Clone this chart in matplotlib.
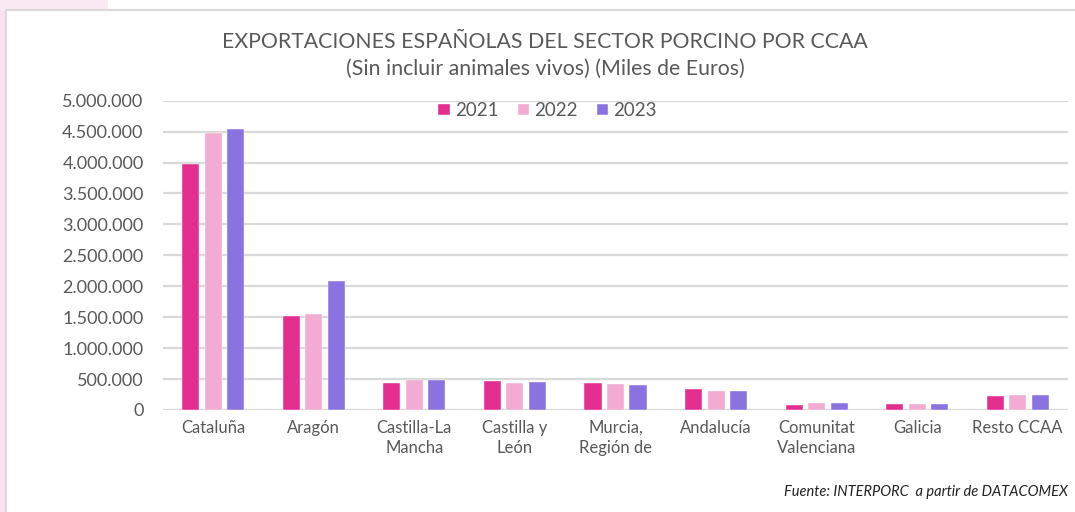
import numpy as np
import matplotlib.pyplot as plt
from matplotlib.patches import Rectangle
from matplotlib.ticker import FuncFormatter

plt.rcParams['font.family'] = ['Lato', 'DejaVu Sans']

# Exportaciones por comunidad autonoma (miles de euros)
ccaa = ['Cataluña', 'Aragón', 'Castilla-La\nMancha', 'Castilla y\nLeón',
        'Murcia,\nRegión de', 'Andalucía', 'Comunitat\nValenciana',
        'Galicia', 'Resto CCAA']
y2021 = [3980000, 1520000, 440000, 469000, 430000, 340000, 81000, 97000, 220000]
y2022 = [4470000, 1550000, 485000, 440000, 425000, 307000, 113000, 97000, 248000]
y2023 = [4540000, 2090000, 485000, 452000, 412000, 307000, 113000, 97000, 248000]
years = ['2021', '2022', '2023']
colors = ['#E32D8F', '#F2ABD2', '#8A73E0']

grey = '#595959'

fig = plt.figure(figsize=(10.75, 5.12), dpi=100)
fig.patch.set_facecolor('white')

# background page strip and chart frame
fig.patches.append(Rectangle((0, 0), 0.005, 1, transform=fig.transFigure,
                             facecolor='#F9E1EE', edgecolor='none', zorder=0))
fig.patches.append(Rectangle((0, 0.98), 0.1, 0.02, transform=fig.transFigure,
                             facecolor='#FBEAF3', edgecolor='none', zorder=0))
fig.patches.append(Rectangle((0.0055, -0.01), 1.0, 0.99, transform=fig.transFigure,
                             facecolor='white', edgecolor='#D9D9D9', lw=1.5, zorder=0))

ax = fig.add_axes([163/1075, 1 - 410/512, (1068-163)/1075, (410-100.7)/512])
ax.set_facecolor('none')
ax.set_zorder(2)

x = np.arange(len(ccaa))
w = 0.17
step = 0.224
for i, (vals, yr) in enumerate(zip([y2021, y2022, y2023], years)):
    ax.bar(x + (i - 1) * step, vals, width=w, color=colors[i], label=yr,
           edgecolor='white', linewidth=0.3, zorder=3)

ax.set_xlim(-0.5, len(ccaa) - 0.5)
ax.set_ylim(0, 5000000)
ax.set_yticks(np.arange(0, 5000001, 500000))
ax.yaxis.set_major_formatter(FuncFormatter(lambda v, p: f'{int(v):,}'.replace(',', '.')))
ax.grid(axis='y', color='#D9D9D9', linewidth=1.6, zorder=0)
ax.set_axisbelow(True)
for s in ax.spines.values():
    s.set_visible(False)
ax.tick_params(axis='y', length=0, pad=14, labelsize=13, labelcolor=grey)
ax.tick_params(axis='x', length=0, pad=7, labelsize=12, labelcolor=grey)
ax.set_xticks(x)
ax.set_xticklabels(ccaa, linespacing=1.35, va='top')

leg = ax.legend(loc='upper center', bbox_to_anchor=(0.425, 1.05), ncol=3, frameon=False,
                fontsize=13.5, handlelength=0.6, handleheight=0.6, handletextpad=0.3,
                columnspacing=1.0, labelcolor=grey)

fig.text(0.507, 1 - 42/512, 'EXPORTACIONES ESPAÑOLAS DEL SECTOR PORCINO POR CCAA',
         ha='center', va='center', fontsize=15.3, color=grey)
fig.text(0.507, 1 - 69/512, '(Sin incluir animales vivos) (Miles de Euros)',
         ha='center', va='center', fontsize=15.3, color=grey)
fig.text(1068/1075, 1 - 492/512, 'Fuente: INTERPORC  a partir de DATACOMEX',
         ha='right', va='center', fontsize=10.5, style='italic', color='#222222')

fig.savefig('out.png', dpi=100)
